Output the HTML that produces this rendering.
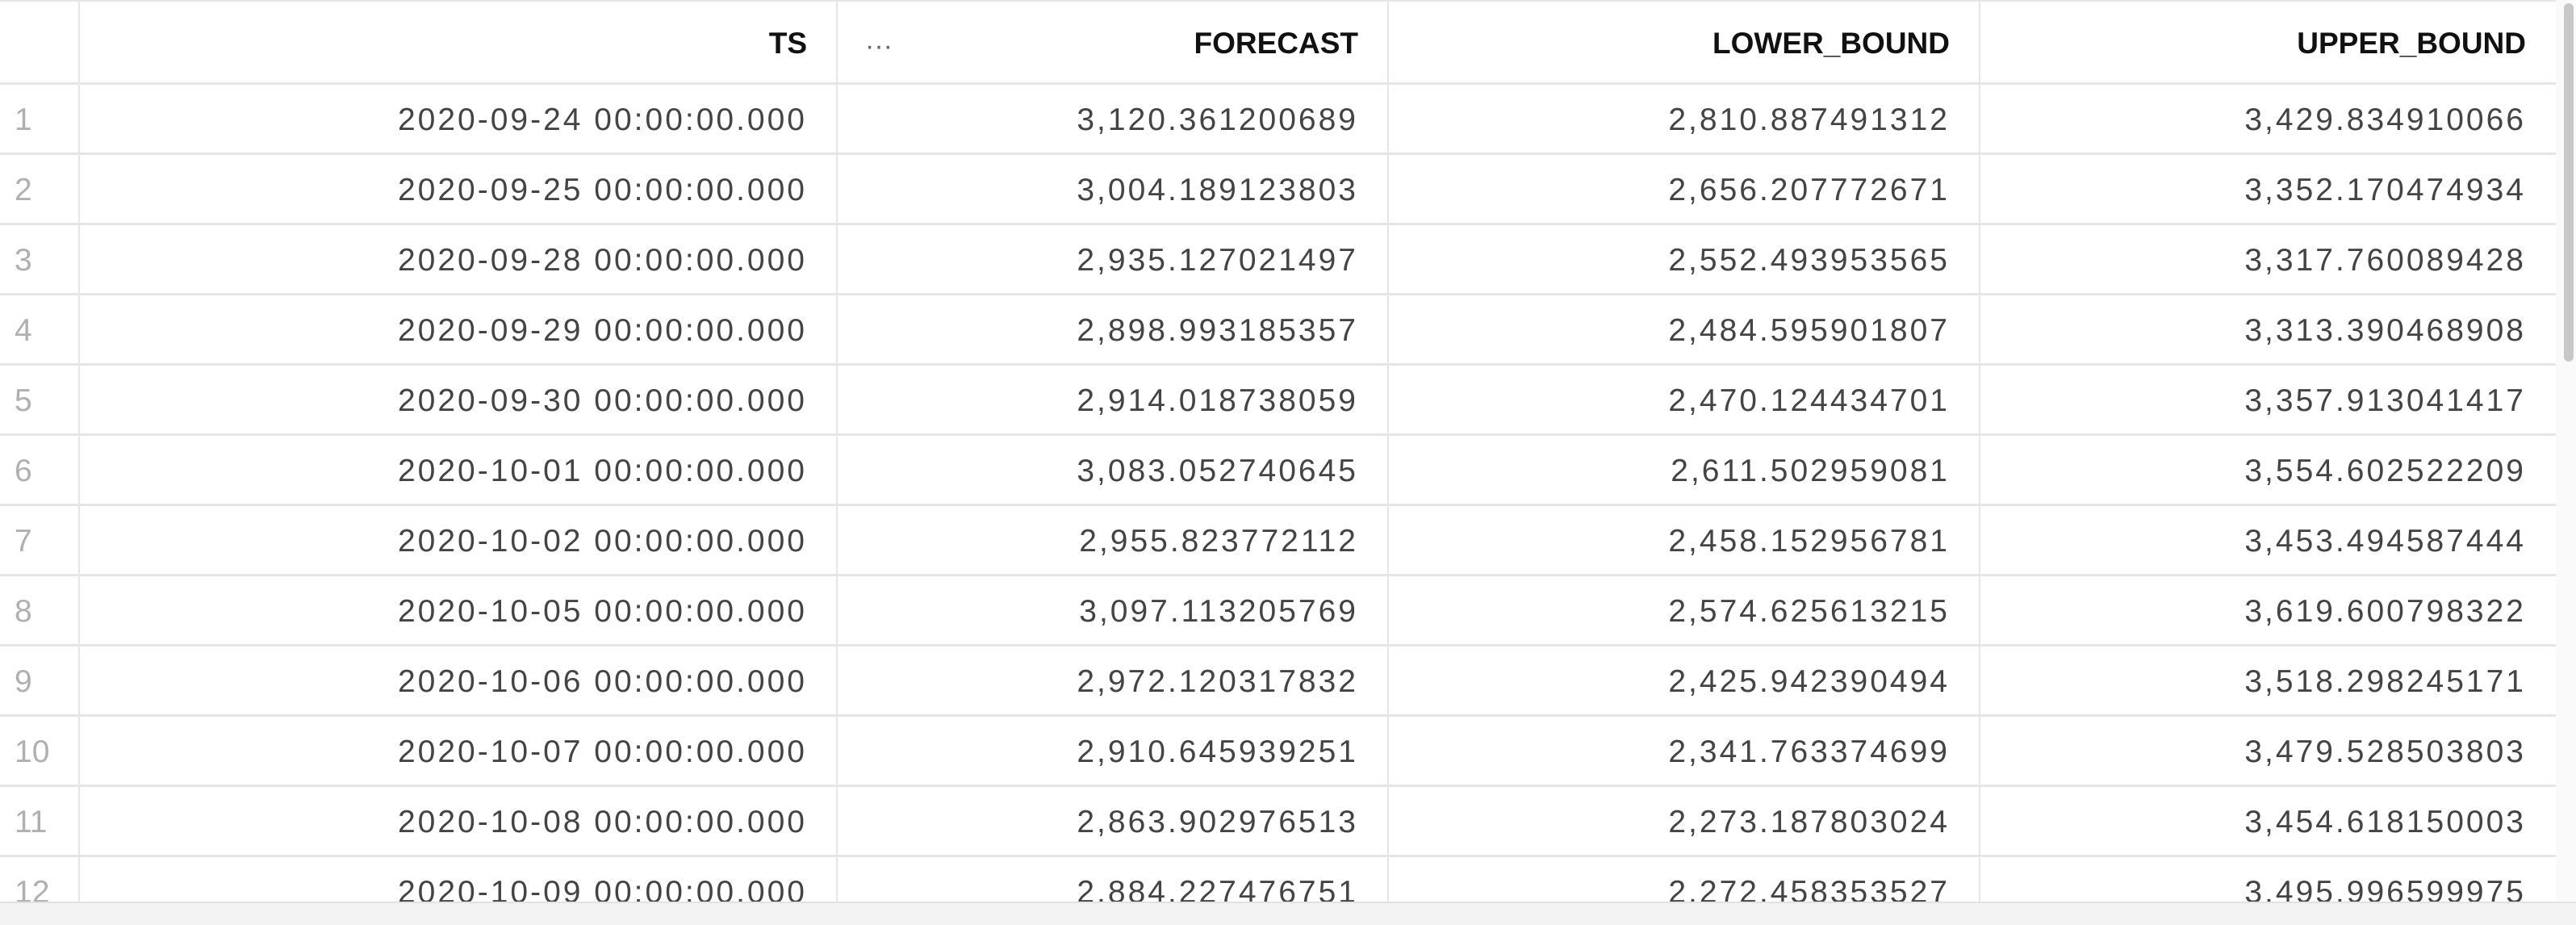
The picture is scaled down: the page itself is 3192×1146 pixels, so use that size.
<!DOCTYPE html>
<html><head><meta charset="utf-8"><style>
html,body{margin:0;padding:0;background:#fff;}
#root{position:relative;width:3192px;height:1146px;overflow:hidden;background:#fff;font-family:"Liberation Sans",sans-serif;}
.cell{position:absolute;box-sizing:border-box;height:87px;line-height:87px;font-size:39px;letter-spacing:3px;color:#444;text-align:right;padding-right:37px;white-space:nowrap;}
.hcell{position:absolute;top:0;height:103px;line-height:108px;font-size:37px;font-weight:bold;color:#111;text-align:right;padding-right:37px;box-sizing:border-box;letter-spacing:0px;}
.hl{position:absolute;left:0;width:3167px;height:3px;background:#e6e6e6;}
.vl{position:absolute;top:0;width:2px;height:1117px;background:#e6e6e6;}
.rn{position:absolute;left:18px;height:87px;line-height:87px;font-size:39px;color:#b0b0b0;}
</style></head><body>
<div id="root">
<div class="hcell" style="left:98px;width:939px;">TS</div>
<div style="position:absolute;left:1072px;top:38px;font-size:34px;color:#666;">···</div>
<div class="hcell" style="left:1037px;width:683px;">FORECAST</div>
<div class="hcell" style="left:1720px;width:733px;">LOWER_BOUND</div>
<div class="hcell" style="left:2453px;width:714px;">UPPER_BOUND</div>
<div style="position:absolute;left:3167px;top:0;width:25px;height:1117px;background:#fafafa;"></div>
<div style="position:absolute;left:3177px;top:4px;width:12px;height:444px;border-radius:6px;background:#c8c8c8;"></div>
<div style="position:absolute;left:0;top:1117px;width:3192px;height:29px;background:#f3f3f3;border-top:2px solid #e2e2e2;box-sizing:border-box;"></div>
</div>
<script>
const tsVals=["2020-09-24","2020-09-25","2020-09-28","2020-09-29","2020-09-30","2020-10-01","2020-10-02","2020-10-05","2020-10-06","2020-10-07","2020-10-08","2020-10-09"];
const forecastVals=["3,120.361200689","3,004.189123803","2,935.127021497","2,898.993185357","2,914.018738059","3,083.052740645","2,955.823772112","3,097.113205769","2,972.120317832","2,910.645939251","2,863.902976513","2,884.227476751"];
const lowerVals=["2,810.887491312","2,656.207772671","2,552.493953565","2,484.595901807","2,470.124434701","2,611.502959081","2,458.152956781","2,574.625613215","2,425.942390494","2,341.763374699","2,273.187803024","2,272.458353527"];
const upperVals=["3,429.834910066","3,352.170474934","3,317.760089428","3,313.390468908","3,357.913041417","3,554.602522209","3,453.494587444","3,619.600798322","3,518.298245171","3,479.528503803","3,454.618150003","3,495.996599975"];
const root=document.getElementById('root');
const cols=[[98,939],[1037,683],[1720,733],[2453,714]];
function add(cls,style,text){const d=document.createElement('div');d.className=cls;d.style.cssText=style;if(text!==undefined)d.textContent=text;root.insertBefore(d,root.children[root.children.length-3]);return d;}
for(let i=0;i<tsVals.length;i++){
  const top=103+87*i+2;
  const vals=[tsVals[i]+" 00:00:00.000",forecastVals[i],lowerVals[i],upperVals[i]];
  const n=add('rn','top:'+top+'px;',String(i+1));
  
  
  for(let c=0;c<4;c++){
    const d=add('cell','left:'+cols[c][0]+'px;width:'+cols[c][1]+'px;top:'+top+'px;',vals[c]);
    
    
  }
}
for(let i=0;i<=11;i++){
  const l=add('hl','top:'+(102+87*i)+'px;');
  
  
}
[97,1036,1719,2452].forEach(function(x){
  const v=add('vl','left:'+x+'px;');
  
  
});
const t=add('hl','top:0;height:2px;');


</script>
</body></html>
